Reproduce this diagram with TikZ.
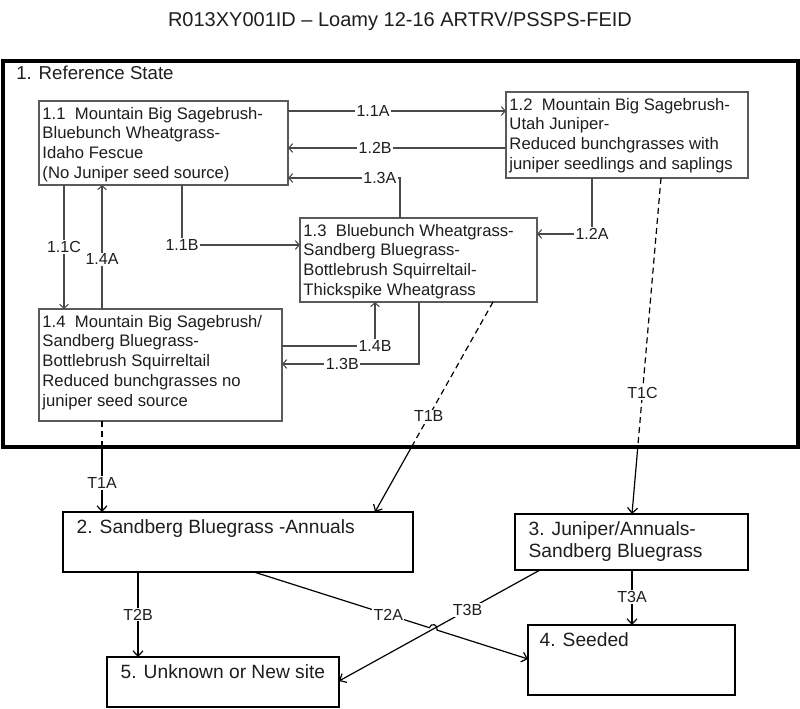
\documentclass[tikz,border=0pt]{standalone}
\usepackage{fontspec}
\setmainfont{Liberation Sans}
\usetikzlibrary{arrows.meta,calc}
\definecolor{boxc}{HTML}{5A5A5A}
\definecolor{linec}{HTML}{4A4A4A}
\definecolor{txtc}{HTML}{1E1E1E}
\begin{document}
\begin{tikzpicture}[x=0.75pt,y=-0.75pt,
  ibox/.style={draw=boxc, line width=0.85pt, inner sep=0pt, outer sep=0pt, anchor=north west},
  obox/.style={draw=black, line width=2pt, inner sep=0pt, outer sep=0pt, anchor=north west},
  itxt/.style={anchor=north west, align=left, inner xsep=2.4pt, inner ysep=4.4pt, text=txtc,
    font=\fontsize{12.5}{14.8}\selectfont},
  otxt/.style={anchor=north west, align=left, inner xsep=10pt, inner ysep=5.8pt, text=txtc,
    font=\fontsize{14.4}{16.3}\selectfont},
  lbl/.style={fill=white, inner sep=1pt, text=txtc, font=\fontsize{12}{14}\selectfont},
  iarr/.style={draw=linec, line width=0.8pt, -{Straight Barb[length=3pt,width=6.5pt]}},
  iln/.style={draw=linec, line width=0.8pt},
  oarr/.style={draw=black, line width=0.9pt, -{Straight Barb[length=4pt,width=7.5pt]}},
  oln/.style={draw=black, line width=0.9pt},
  dsh/.style={dash pattern=on 4.5pt off 3pt}
]
\useasboundingbox (0,0) rectangle (800,709);
\fill[white] (0,0) rectangle (800,709);

% title
\node[text=txtc, font=\fontsize{15}{18}\selectfont] (title) at (400,21) {R013XY001ID – Loamy 12-16 ARTRV/PSSPS-FEID};

% reference state frame
\node[draw=black, line width=2.3pt, inner sep=0pt, outer sep=0pt, anchor=north west,
  minimum width=795*0.75pt, minimum height=386*0.75pt] (ref) at (3,61) {};
\node[anchor=north west, inner sep=0pt, text=txtc, font=\fontsize{14}{16.3}\selectfont] (reft) at (16,66) {1. Reference State};

% inner boxes
\node[ibox, minimum width=249*0.75pt, minimum height=84*0.75pt] (b11) at (39,101) {};
\node[ibox, minimum width=242*0.75pt, minimum height=86*0.75pt] (b12) at (506,92) {};
\node[ibox, minimum width=237*0.75pt, minimum height=84*0.75pt] (b13) at (300,218) {};
\node[ibox, minimum width=243*0.75pt, minimum height=112*0.75pt] (b14) at (39,309) {};

\node[itxt] (t11) at (b11.north west) {1.1~~Mountain Big Sagebrush-\\Bluebunch Wheatgrass-\\Idaho Fescue\\(No Juniper seed source)};
\node[itxt] (t12) at (b12.north west) {1.2~~Mountain Big Sagebrush-\\Utah Juniper-\\Reduced bunchgrasses with\\juniper seedlings and saplings};
\node[itxt] (t13) at (b13.north west) {1.3~~Bluebunch Wheatgrass-\\Sandberg Bluegrass-\\Bottlebrush Squirreltail-\\Thickspike Wheatgrass};
\node[itxt] (t14) at (b14.north west) {1.4~~Mountain Big Sagebrush/\\Sandberg Bluegrass-\\Bottlebrush Squirreltail\\Reduced bunchgrasses no\\juniper seed source};

% lower boxes
\node[obox, minimum width=350*0.75pt, minimum height=60*0.75pt] (b2) at (63,512) {};
\node[obox, minimum width=233*0.75pt, minimum height=56*0.75pt] (b3) at (515,514) {};
\node[obox, minimum width=207*0.75pt, minimum height=70*0.75pt] (b4) at (528,625) {};
\node[obox, minimum width=232*0.75pt, minimum height=50*0.75pt] (b5) at (107,657) {};

\node[otxt] (t2) at (b2.north west) {2. Sandberg Bluegrass -Annuals};
\node[otxt] (t3) at (b3.north west) {3. Juniper/Annuals-\\Sandberg Bluegrass};
\node[otxt, inner xsep=8.5pt] (t4) at (b4.north west) {4. Seeded};
\node[otxt] (t5) at (b5.north west) {5. Unknown or New site};

% transitions inside reference state
\draw[iarr] (b11.east |- 0,111) -- node[lbl,pos=0.39]{1.1A} (b12.west |- 0,111);
\draw[iarr] (b12.west |- 0,148) -- node[lbl,pos=0.6]{1.2B} (b11.east |- 0,148);
\draw[iarr] (b13.north -| 400,0) |- node[lbl,pos=0.59]{1.3A} (b11.east |- 0,178);
\draw[iarr] (b11.south -| 182,0) |- node[lbl,pos=0.5]{1.1B} (b13.west |- 0,245);
\draw[iarr] (b11.south -| 64,0) -- node[lbl,pos=0.5]{1.1C} (b14.north -| 64,0);
\draw[iarr] (b14.north -| 102,0) -- node[lbl,pos=0.4]{1.4A} (b11.south -| 102,0);
\draw[iarr] (b12.south -| 592,0) |- node[lbl,pos=0.5]{1.2A} (b13.east |- 0,234);
\draw[iarr] (b14.east |- 0,346) -| node[lbl,pos=0.5]{1.4B} (b13.south -| 375,0);
\draw[iarr] (b13.south -| 419,0) |- node[lbl,pos=0.78]{1.3B} (b14.east |- 0,364);

% transitions out of reference state
\coordinate (t1as) at (b14.south -| 102,0);
\coordinate (t1am) at (ref.south -| 102,0);
\coordinate (t1ae) at (b2.north -| 102,0);
\draw[oln, dsh] (t1as) -- (t1am);
\draw[oarr] (t1am) -- node[lbl,pos=0.55]{T1A} (t1ae);

\coordinate (t1bs) at (b13.south -| 493,0);
\coordinate (t1be) at (b2.north -| 375,0);
\coordinate (t1bm) at ($(t1bs)!0.69!(t1be)$);
\draw[oln, dsh] (t1bs) -- node[lbl,pos=0.79]{T1B} (t1bm);
\draw[oarr] (t1bm) -- (t1be);

\coordinate (t1cs) at (b12.south -| 661,0);
\coordinate (t1ce) at (b3.north -| 632,0);
\coordinate (t1cm) at ($(t1cs)!0.8!(t1ce)$);
\draw[oln, dsh] (t1cs) -- node[lbl,pos=0.8]{T1C} (t1cm);
\draw[oarr] (t1cm) -- (t1ce);

% lower transitions
\draw[oarr] (b2.south -| 138,0) -- node[lbl,pos=0.5]{T2B} (b5.north -| 138,0);
\draw[oarr] (b3.south -| 632,0) -- node[lbl,pos=0.49]{T3A} (b4.north -| 632,0);
\draw[oarr] (b3.south -| 540,0) -- node[lbl,pos=0.36]{T3B} (b5.east |- 0,681);

\coordinate (t2as) at (b2.south -| 254,0);
\coordinate (t2ae) at (b4.west |- 0,659);
\coordinate (h1) at ($(t2as)!0.640!(t2ae)$);
\coordinate (h2) at ($(t2as)!0.668!(t2ae)$);
\draw[oarr] (t2as) -- node[lbl,pos=0.766]{T2A} (h1)
  .. controls ($(h1)+(1.5,-5.5)$) and ($(h2)+(1.5,-5.5)$) .. (h2) -- (t2ae);
\end{tikzpicture}
\end{document}
